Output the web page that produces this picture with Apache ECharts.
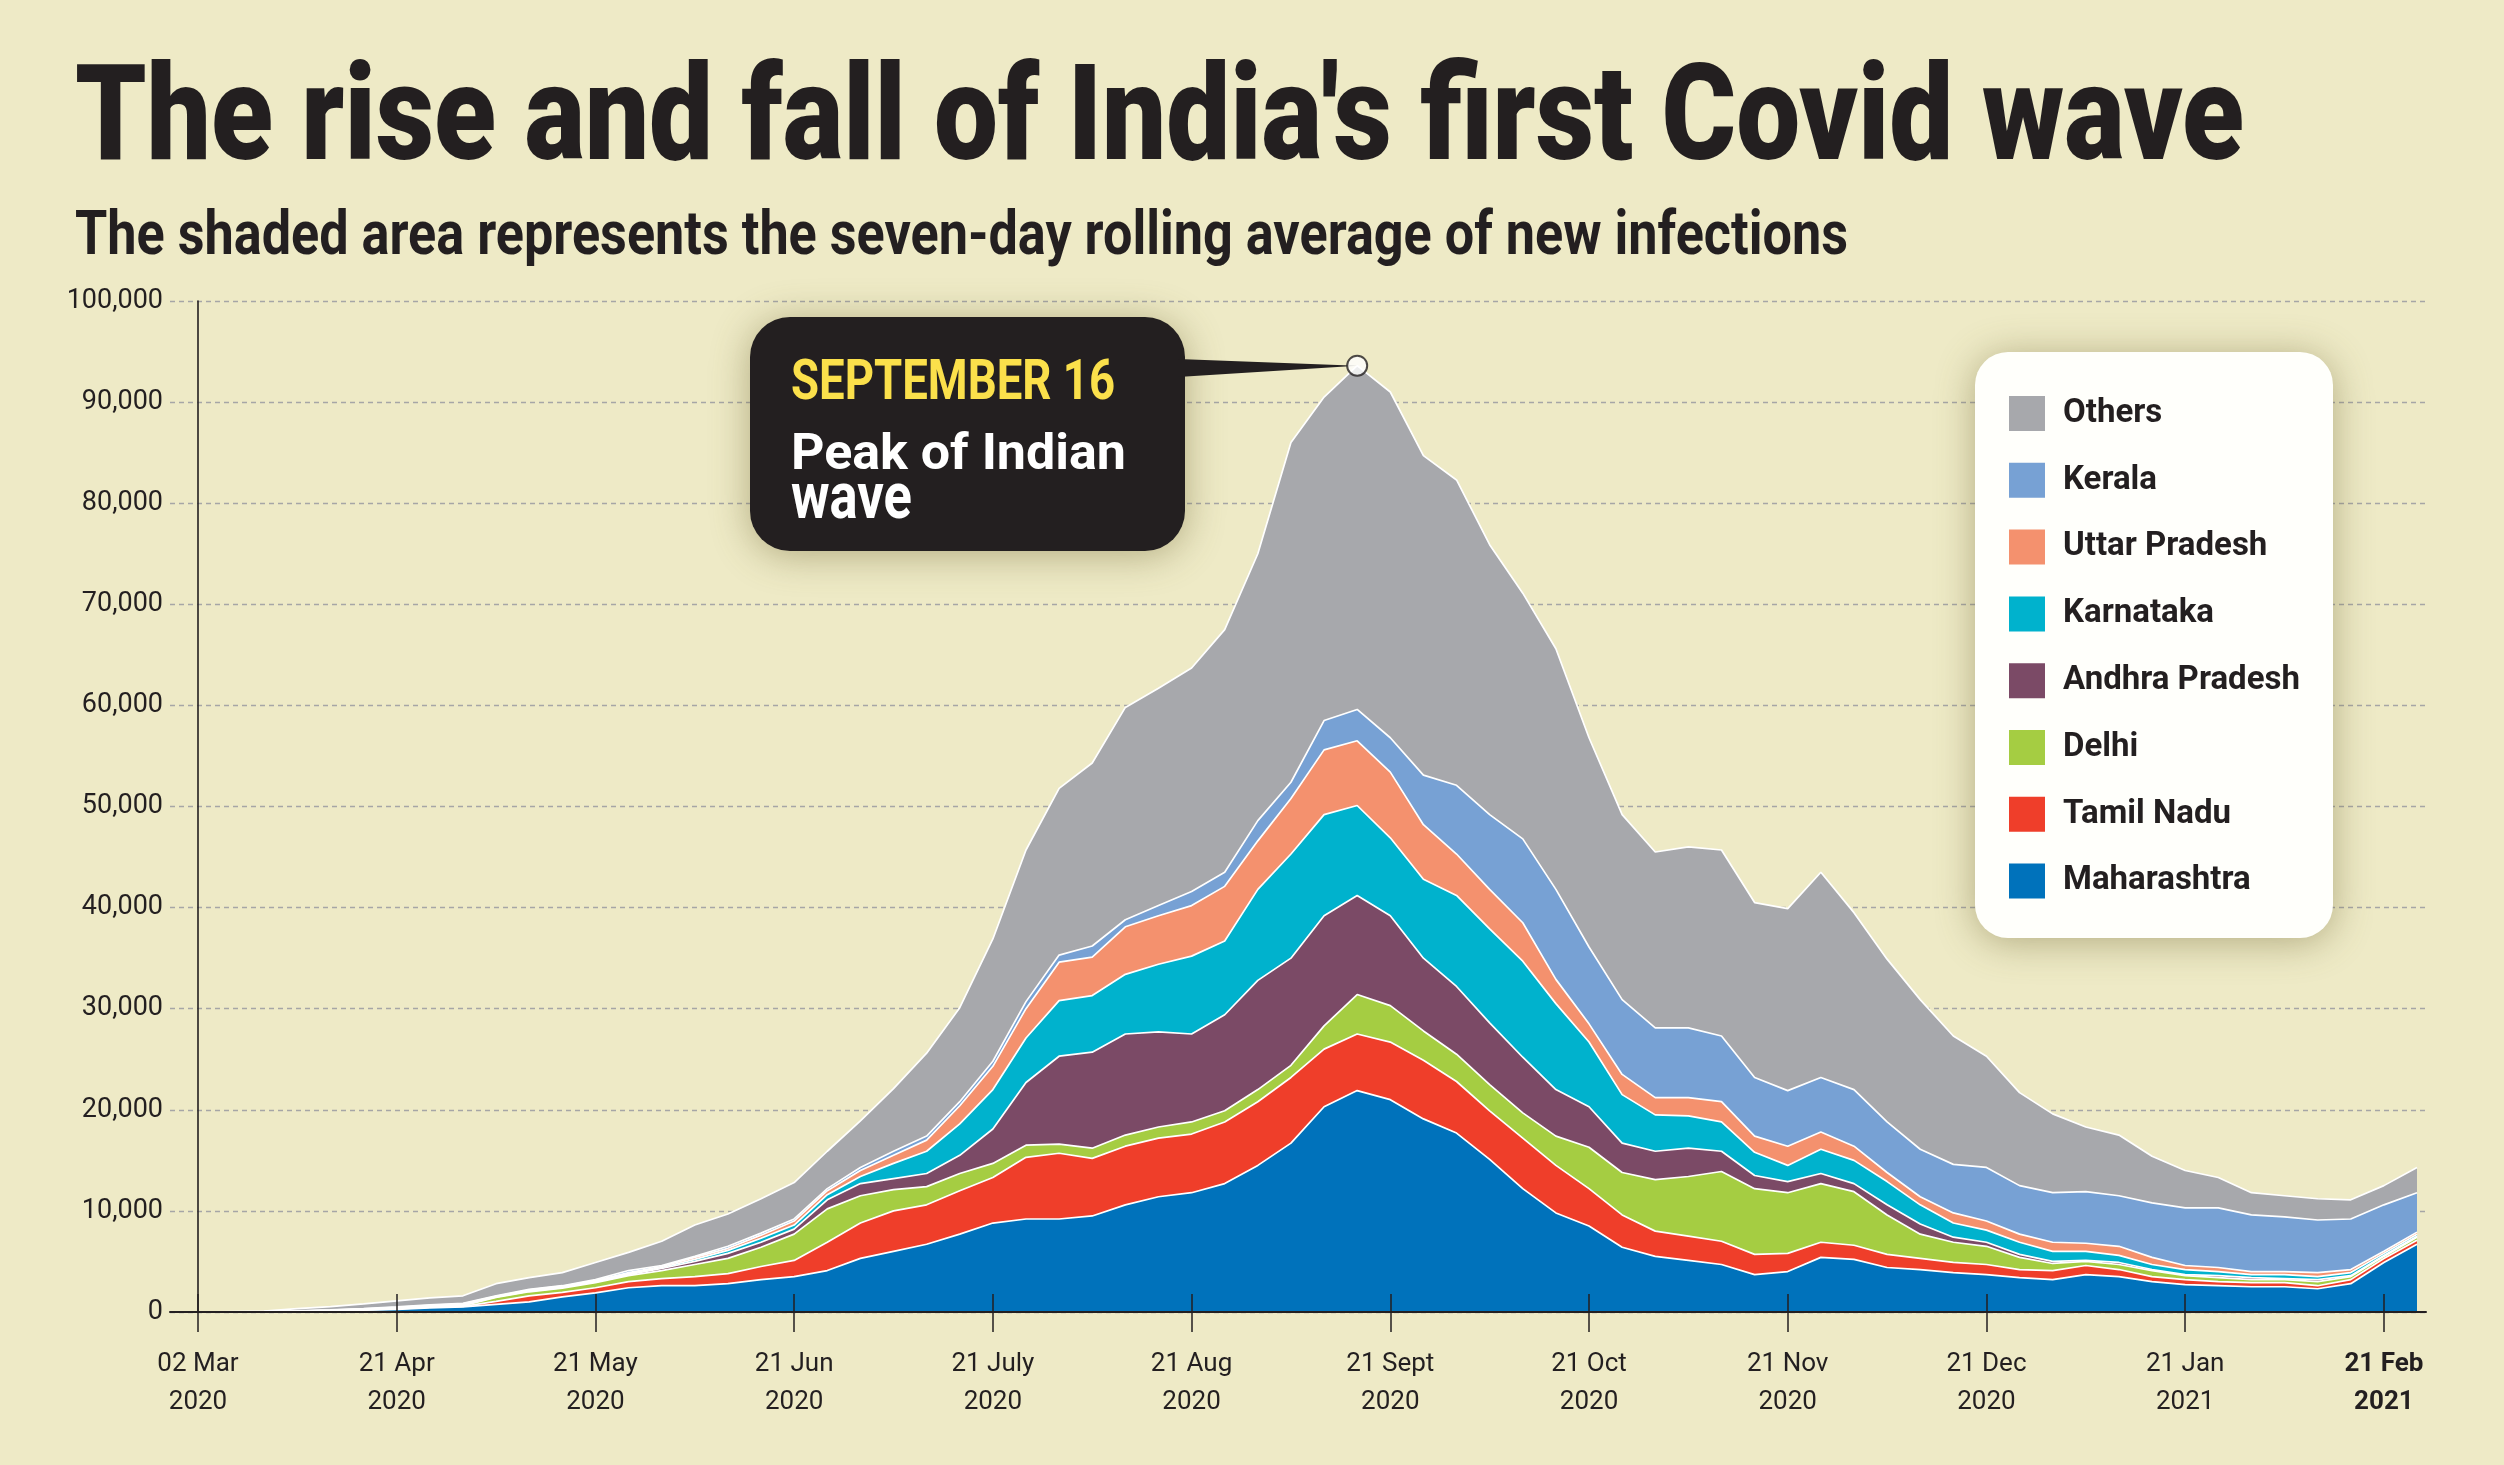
<!DOCTYPE html>
<html>
<head>
<meta charset="utf-8">
<script src="https://cdn.jsdelivr.net/npm/echarts@6/dist/echarts.min.js"></script>
<style>
html,body{margin:0;padding:0;background:#eeeac6;}
#chart{width:2504px;height:1465px;}
</style>
</head>
<body>
<div id="chart"></div>
<script>
// ---------------- DATA ----------------
const titleText = "The rise and fall of India's first Covid wave";
const subtitleText = "The shaded area represents the seven-day rolling average of new infections";
const calloutDate = "SEPTEMBER 16";
const calloutLine1 = "Peak of Indian";
const calloutLine2 = "wave";

// evenly spaced axis ticks; 6 samples between neighbouring ticks
const tickLabels = ['02 Mar\n2020','21 Apr\n2020','21 May\n2020','21 Jun\n2020','21 July\n2020','21 Aug\n2020',
                    '21 Sept\n2020','21 Oct\n2020','21 Nov\n2020','21 Dec\n2020','21 Jan\n2021','21 Feb\n2021'];
const boldTickLabel = '21 Feb\n2021';
const pointsPerTick = 6;

const maharashtra = [0,0,10,30,70,180,260,400,500,750, 1000,1500,1900,2400,2600,2600,2800,3200,3500,4100,
  5300,6000,6700,7700,8800,9200,9200,9500,10600,11400, 11800,12700,14500,16700,20300,21900,21000,19100,17700,15100,
  12200,9800,8500,6400,5500,5100,4700,3700,4000,5400, 5200,4400,4200,3900,3700,3400,3200,3700,3500,3000,
  2700,2600,2500,2500,2300,2800,4900,6700];
const tamilNadu = [0,0,10,20,30,30,40,70,60,300, 600,450,500,600,700,900,1000,1300,1600,2800,
  3500,4000,3900,4300,4500,6100,6500,5700,5800,5800, 5800,6100,6300,6500,5700,5600,5700,5800,5100,4800,
  5000,4700,3700,3200,2500,2400,2300,2000,1800,1500, 1400,1300,1100,1000,1000,800,900,900,700,500,
  500,400,400,400,300,400,400,400];
const delhi = [0,0,0,10,20,30,40,50,60,400, 400,400,500,600,800,1200,1500,1900,2600,3300,
  2700,2100,1800,1700,1400,1200,900,1000,1100,1100, 1200,1100,1200,1200,2300,3900,3600,2900,2700,2600,
  2500,2900,4100,4200,5100,5900,6900,6500,6000,5800, 5300,3900,2400,2000,1800,1200,700,400,500,600,
  400,400,300,300,400,300,200,300];
const andhraPradesh = [0,0,10,10,20,30,40,40,60,50, 70,70,80,100,200,300,500,500,500,900,
  1200,1100,1300,1800,3400,6200,8700,9500,10000,9400, 8700,9500,10800,10600,10900,9800,8900,7200,6700,6100,
  5500,4600,4000,2900,2800,2800,2000,1300,1100,1000, 800,1000,1000,500,400,300,200,100,200,100,
  100,200,200,100,200,100,100,100];
const karnataka = [0,0,0,10,20,20,40,40,60,20, 50,60,70,100,100,200,300,400,400,500,
  700,1500,2200,3100,3900,4400,5500,5600,5900,6700, 7700,7300,9000,10300,10000,8900,7700,7800,9000,9300,
  9500,8500,6400,4800,3600,3200,2900,2300,1600,2400, 2300,2300,1900,1400,1200,1200,1000,900,700,500,
  500,400,300,400,300,300,200,200];
const uttarPradesh = [0,0,10,10,20,20,40,50,60,30, 60,70,70,100,100,200,200,300,400,400,
  600,800,1100,1800,2300,2900,3800,3800,4700,4800, 5000,5400,4800,5500,6400,6400,6500,5400,4100,3900,
  3800,2400,1800,2000,1700,1800,2000,1600,1900,1700, 1400,900,800,1000,900,800,900,800,900,700,
  400,400,300,300,400,300,200,200];
const kerala = [0,0,10,30,40,30,40,50,50,50, 70,50,80,200,100,100,200,200,200,200,
  300,400,400,400,500,700,700,1100,700,1000, 1400,1400,2000,1600,2900,3100,3400,4900,6800,7400,
  8300,8900,7600,7400,6900,6900,6500,5800,5500,5400, 5600,5000,4700,4800,5300,4800,4900,5100,5000,5400,
  5700,5900,5600,5400,5200,5000,4600,3900];
const others = [0,50,50,210,310,460,600,700,750,1200, 1150,1300,1700,1800,2400,3100,3200,3400,3600,3700,
  4600,6200,8200,9300,12100,15000,16500,18100,21000,21500, 22100,24000,26400,33600,32000,34000,34200,31600,30200,26700,
  24300,23800,20700,18300,17400,17900,18400,17300,18000,20300, 17500,16100,14800,12700,11000,9200,7800,6400,6000,4600,
  3700,3000,2200,2100,2100,1900,1900,2500];

// stacking order bottom -> top
const seriesNames = ['Maharashtra','Tamil Nadu','Delhi','Andhra Pradesh','Karnataka','Uttar Pradesh','Kerala','Others'];
const seriesValues = [maharashtra, tamilNadu, delhi, andhraPradesh, karnataka, uttarPradesh, kerala, others];
const seriesColors = ['#0072bb','#ef3e2a','#a5cd42','#7b4a66','#00b2cd','#f4916e','#77a1d4','#a7a8ac'];
const legendOrder = ['Others','Kerala','Uttar Pradesh','Karnataka','Andhra Pradesh','Delhi','Tamil Nadu','Maharashtra'];

// ---------------- FONTS ----------------
const mctx = document.createElement('canvas').getContext('2d');
function hasFont(name){
  const s = 'abcdefghijklmnopqrstuvwxyzABCDEFGHIJ0123456789';
  mctx.font = '40px monospace'; const a = mctx.measureText(s).width;
  mctx.font = "40px '" + name + "', monospace"; const b = mctx.measureText(s).width;
  return Math.abs(a - b) > 0.5;
}
const HAS_NARROW = hasFont('Liberation Sans Narrow');
const NARROW = HAS_NARROW ? "'Liberation Sans Narrow', sans-serif" : "Roboto, sans-serif";
const INK = '#231f20';
function fitScale(text, weight, size, family, target){
  mctx.font = weight + ' ' + size + 'px ' + family;
  return target / mctx.measureText(text).width;
}

// ---------------- CHART ----------------
const chart = echarts.init(document.getElementById('chart'), null, {width:2504, height:1465, renderer:'canvas'});

const n = maharashtra.length;
const categories = maharashtra.map((_, i) => String(i));
const totals = [];
for (let i = 0; i < n; i++) totals.push(seriesValues.reduce((s, arr) => s + arr[i], 0));
let peakIdx = 0;
totals.forEach((v, i) => { if (v > totals[peakIdx]) peakIdx = i; });

const areaSeries = seriesNames.map((name, k) => ({
  name: name, type: 'line', stack: 'total', xAxisIndex: 0, yAxisIndex: 0,
  data: seriesValues[k],
  symbol: 'none', showSymbol: false, smooth: false,
  lineStyle: {color: '#ffffff', width: 1.7},
  itemStyle: {color: seriesColors[k]},
  areaStyle: {color: seriesColors[k], opacity: 1},
  emphasis: {disabled: true}, silent: true, z: 2
}));

const peakSeries = {
  name: 'peak', type: 'scatter', xAxisIndex: 0, yAxisIndex: 0,
  data: [[peakIdx, totals[peakIdx]]],
  symbol: 'circle', symbolSize: 20,
  itemStyle: {color: '#ffffff', borderColor: INK, borderWidth: 2},
  z: 12, silent: true
};

const labelSize = HAS_NARROW ? 29 : 26;
const legendSize = HAS_NARROW ? 38 : 33;

const option = {
  animation: false,
  backgroundColor: '#eeeac6',
  grid: [
    {left: 198, right: 87, top: 301, bottom: 153, containLabel: false, outerBoundsMode: 'none'},
    {left: 170, right: 78, top: 301, bottom: 153, containLabel: false, outerBoundsMode: 'none'}
  ],
  xAxis: [{
    type: 'category', gridIndex: 0, data: categories, boundaryGap: false, position: 'bottom', z: 4,
    axisLine: {show: false},
    axisTick: {show: true, inside: false, length: 20, interval: pointsPerTick - 1, lineStyle: {color: INK, width: 1.5}},
    splitLine: {show: false},
    axisLabel: {
      show: true, interval: pointsPerTick - 1, margin: 33,
      fontFamily: NARROW, fontSize: labelSize, lineHeight: 38, color: INK, align: 'center',
      formatter: function (v, idx) {
        const lab = tickLabels[Math.round(idx / pointsPerTick)] || '';
        if (lab === boldTickLabel) return lab.split('\n').map(s => '{b|' + s + '}').join('\n');
        return lab;
      },
      rich: {b: {fontFamily: NARROW, fontWeight: 'bold', fontSize: labelSize, lineHeight: 38, color: INK}}
    }
  }, {
    type: 'category', gridIndex: 0, data: categories, boundaryGap: false, position: 'bottom', z: 4,
    axisLine: {show: false},
    axisTick: {show: true, inside: true, length: 18, interval: pointsPerTick - 1, lineStyle: {color: INK, width: 1.5}},
    splitLine: {show: false},
    axisLabel: {show: false}
  }, {
    type: 'value', gridIndex: 1, min: 0, max: 1, position: 'bottom', z: 3,
    axisLine: {show: true, lineStyle: {color: INK, width: 2}},
    axisTick: {show: false}, splitLine: {show: false}, axisLabel: {show: false}
  }],
  yAxis: [{
    type: 'value', gridIndex: 0, min: 0, max: 100000, interval: 10000, z: 4,
    axisLine: {show: true, lineStyle: {color: INK, width: 1.6}},
    axisTick: {show: false}, splitLine: {show: false}, axisLabel: {show: false}
  }, {
    type: 'value', gridIndex: 1, min: 0, max: 100000, interval: 10000,
    axisLine: {show: false}, axisTick: {show: false},
    splitLine: {show: true, lineStyle: {color: '#a6a6a6', width: 1.3, type: [5, 4]}},
    axisLabel: {
      margin: 7, fontFamily: 'Roboto, sans-serif', fontSize: 27, color: INK,
      formatter: v => v.toLocaleString('en-US')
    }
  }],
  legend: {
    data: legendOrder.map(nm => ({name: nm, itemStyle: {color: seriesColors[seriesNames.indexOf(nm)], borderWidth: 0}})),
    orient: 'vertical', left: 2009, top: 396,
    itemWidth: 36, itemHeight: 35, itemGap: 31.8, icon: 'rect',
    selectedMode: false, z: 10, padding: 0,
    textStyle: {fontFamily: NARROW, fontWeight: 'bold', fontSize: legendSize, color: INK, lineHeight: 35, padding: [0, 0, 0, 13]}
  },
  series: areaSeries.concat([peakSeries])
};
chart.setOption(option);

// ---------------- ANNOTATIONS ----------------
const peakPx = chart.convertToPixel({xAxisIndex: 0, yAxisIndex: 0}, [peakIdx, totals[peakIdx]]);

function fittedText(text, x, baseline, size, weight, family, color, targetWidth, z){
  const s = fitScale(text, weight, size, family, targetWidth);
  return {
    type: 'text', x: x, y: baseline - 0.27 * size, scaleX: s, scaleY: 1, z: z || 20,
    silent: true,
    style: {text: text, x: 0, y: 0, fontSize: size, fontWeight: weight, fontFamily: family, fill: color,
            textAlign: 'left', textVerticalAlign: 'middle', align: 'left', verticalAlign: 'middle'}
  };
}

const boxShadow = {shadowBlur: 38, shadowColor: 'rgba(105,95,45,0.45)', shadowOffsetX: 0, shadowOffsetY: 4};

chart.setOption({
  graphic: [
    fittedText(titleText, 75, 162, 133, '900', NARROW, INK, 2169),
    fittedText(subtitleText, 75, 255, 61, 'bold', NARROW, INK, 1773),
    {type: 'rect', z: 5, silent: true, shape: {x: 1975, y: 352, width: 358, height: 586, r: 33},
     style: Object.assign({fill: '#fffffb'}, boxShadow)},
    {type: 'rect', z: 5, silent: true, shape: {x: 750, y: 317, width: 435, height: 234, r: 40},
     style: Object.assign({fill: INK}, boxShadow)},
    {type: 'polygon', z: 6, silent: true,
     shape: {points: [[1178, 359], [1178, 377], [peakPx[0], peakPx[1]]]}, style: {fill: INK}},
    fittedText(calloutDate, 791, 400, 56, 'bold', NARROW, '#fbe04b', 324, 21),
    fittedText(calloutLine1, 791, 470, 50, 'bold', NARROW, '#ffffff', 335, 21),
    fittedText(calloutLine2, 791, 519, 64, 'bold', NARROW, '#ffffff', 121, 21)
  ]
});
</script>
</body>
</html>
